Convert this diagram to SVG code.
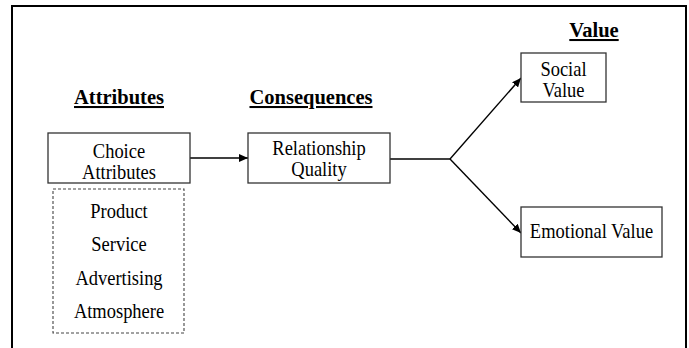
<svg xmlns="http://www.w3.org/2000/svg" width="689" height="348" viewBox="0 0 689 348">
<defs>
<style>
text{font-family:"Liberation Serif","Times New Roman",serif;fill:#000}
.h{font-size:20.5px;font-weight:bold;text-decoration:underline}
.t{font-size:21px;text-anchor:middle}
.box{fill:#fff;stroke:#333;stroke-width:1.3}
.dash{fill:none;stroke:#444;stroke-width:1.1;stroke-dasharray:3 2}
.ln{stroke:#000;stroke-width:1.4;fill:none}
</style>
<marker id="ah" markerWidth="10" markerHeight="8" refX="9" refY="4" orient="auto" markerUnits="userSpaceOnUse">
<path d="M0,0 L9,4 L0,8 Z" fill="#000"/>
</marker>
</defs>
<rect width="689" height="348" fill="#fff"/>
<path d="M12,348 V6 H686 V348" fill="none" stroke="#000" stroke-width="2"/>
<g id="headers">
<text class="h" x="119" y="104" text-anchor="middle">Attributes</text>
<text class="h" x="311" y="104" text-anchor="middle">Consequences</text>
<text class="h" x="594" y="37" text-anchor="middle">Value</text>
</g>
<g id="connectors">
<line class="ln" x1="190" y1="158" x2="248" y2="158" marker-end="url(#ah)"/>
<polyline class="ln" points="390,159 450,159"/>
<line class="ln" x1="450" y1="159" x2="521" y2="78" marker-end="url(#ah)"/>
<line class="ln" x1="450" y1="159" x2="521" y2="233" marker-end="url(#ah)"/>
</g>
<g id="choice">
<rect class="box" x="48" y="133" width="142" height="50"/>
<text class="t" transform="matrix(0.88,0,0,1,119,158)">Choice</text>
<text class="t" transform="matrix(0.88,0,0,1,119,179)">Attributes</text>
</g>
<g id="list">
<rect class="dash" x="53" y="189" width="131" height="144"/>
<text class="t" transform="matrix(0.88,0,0,1,119,218)">Product</text>
<text class="t" transform="matrix(0.88,0,0,1,119,251)">Service</text>
<text class="t" transform="matrix(0.88,0,0,1,119,285)">Advertising</text>
<text class="t" transform="matrix(0.88,0,0,1,119,318)">Atmosphere</text>
</g>
<g id="relationship">
<rect class="box" x="248" y="133" width="142" height="50"/>
<text class="t" transform="matrix(0.88,0,0,1,319,155)">Relationship</text>
<text class="t" transform="matrix(0.88,0,0,1,319,176)">Quality</text>
</g>
<g id="social">
<rect class="box" x="521" y="53" width="85" height="49"/>
<text class="t" transform="matrix(0.88,0,0,1,563.5,76)">Social</text>
<text class="t" transform="matrix(0.88,0,0,1,563.5,97)">Value</text>
</g>
<g id="emotional">
<rect class="box" x="521" y="207" width="141" height="50"/>
<text class="t" transform="matrix(0.88,0,0,1,591.5,238)">Emotional Value</text>
</g>
</svg>
